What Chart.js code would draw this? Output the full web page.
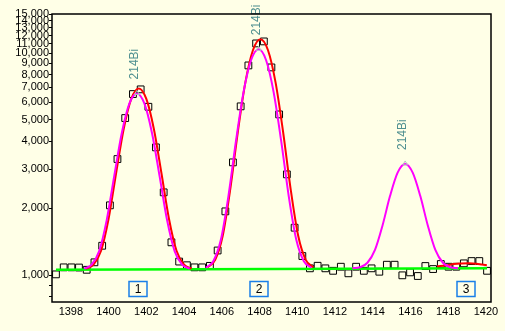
<!DOCTYPE html>
<html>
<head>
<meta charset="utf-8">
<script src="https://cdn.jsdelivr.net/npm/chart.js@4.4.1/dist/chart.umd.min.js"></script>
<style>
  html, body { margin: 0; padding: 0; background: #ffffe7; }
</style>
</head>
<body>
<canvas id="spectrum" width="505" height="331"></canvas>
<script>
// channel energies (keV) and measured counts
const channelE = [
  1397.21, 1397.62, 1398.03, 1398.43, 1398.84, 1399.25, 1399.66, 1400.07, 1400.47, 1400.88,
  1401.29, 1401.70, 1402.11, 1402.51, 1402.92, 1403.33, 1403.74, 1404.15, 1404.55, 1404.96,
  1405.37, 1405.78, 1406.19, 1406.59, 1407.00, 1407.41, 1407.82, 1408.23, 1408.63, 1409.04,
  1409.45, 1409.86, 1410.27, 1410.67, 1411.08, 1411.49, 1411.90, 1412.31, 1412.71, 1413.12,
  1413.53, 1413.94, 1414.35, 1414.75, 1415.16, 1415.57, 1415.98, 1416.39, 1416.79, 1417.20,
  1417.61, 1418.02, 1418.43, 1418.83, 1419.24, 1419.65, 1420.06
];
const channelCounts = [
  1007, 1083, 1083, 1081, 1056, 1141, 1355, 2061, 3331, 5096,
  6537, 6864, 5729, 3760, 2358, 1404, 1150, 1107, 1083, 1083,
  1100, 1290, 1936, 3218, 5754, 8798, 11054, 11287, 8618, 5293,
  2842, 1634, 1218, 1072, 1101, 1072, 1045, 1090, 1018, 1090,
  1045, 1072, 1035, 1113, 1113, 997, 1028, 990, 1098, 1064,
  1121, 1090, 1090, 1129, 1156, 1156, 1045
];

// continuum under the peaks
const baselineE = [1397.21, 1420.06];
const baselineCounts = [1057, 1073];

// fitted peak shapes (red)
const fit1E = [1398.8, 1399.2, 1399.6, 1400.0, 1400.4, 1400.8, 1401.2, 1401.6, 1402.0, 1402.4, 1402.8, 1403.2, 1403.6, 1404.0, 1404.4];
const fit1Counts = [1068, 1113, 1286, 1793, 2882, 4550, 6213, 6928, 6213, 4550, 2882, 1793, 1286, 1113, 1068];
const fit2E = [1405.25, 1405.65, 1406.05, 1406.45, 1406.85, 1407.25, 1407.65, 1408.05, 1408.45, 1408.85, 1409.25, 1409.65, 1410.05, 1410.45, 1410.85];
const fit2Counts = [1083, 1171, 1502, 2439, 4410, 7377, 10302, 11552, 10302, 7377, 4410, 2439, 1502, 1171, 1083];
const fit3E = [1417.41, 1417.9, 1418.3, 1418.7, 1419.1, 1419.5, 1419.8, 1420.05];
const fit3Counts = [1095, 1105, 1120, 1127, 1130, 1125, 1115, 1108];

// 214Bi library lines (magenta)
const lib1E = [1398.7, 1399.1, 1399.5, 1399.9, 1400.3, 1400.7, 1401.1, 1401.5, 1401.9, 1402.3, 1402.7, 1403.1, 1403.5, 1403.9, 1404.3];
const lib1Counts = [1068, 1113, 1282, 1768, 2799, 4363, 5916, 6578, 5916, 4363, 2799, 1768, 1282, 1113, 1068];
const lib2E = [1405.15, 1405.55, 1405.95, 1406.35, 1406.75, 1407.15, 1407.55, 1407.95, 1408.35, 1408.75, 1409.15, 1409.55, 1409.95, 1410.35, 1410.75];
const lib2Counts = [1079, 1154, 1441, 2263, 4008, 6655, 9281, 10402, 9281, 6655, 4008, 2263, 1441, 1154, 1079];
const lib3E = [1412.92, 1413.32, 1413.72, 1414.12, 1414.52, 1414.92, 1415.32, 1415.72, 1416.12, 1416.52, 1416.92, 1417.32, 1417.72, 1418.12, 1418.52];
const lib3Counts = [1072, 1084, 1136, 1298, 1672, 2274, 2894, 3165, 2894, 2274, 1672, 1298, 1136, 1084, 1072];

// peak identification labels
const peakNames = ["214Bi", "214Bi", "214Bi"];
const peakE = [1401.5, 1407.95, 1415.72];
const peakTop = [6578, 10402, 3165];

// fit region markers
const regionNames = ["1", "2", "3"];
const regionCenterE = [1401.56, 1407.97, 1418.96];

// axis ticks
const xTicks = [1398, 1400, 1402, 1404, 1406, 1408, 1410, 1412, 1414, 1416, 1418, 1420];
const yTicks = [800, 900, 1000, 2000, 3000, 4000, 5000, 6000, 7000, 8000, 9000, 10000, 11000, 12000, 13000, 14000, 15000];

const FONT = "'Liberation Sans', Arial, sans-serif";
const BG = "#ffffe7";

const pts = (xs, ys) => xs.map((x, i) => ({ x, y: ys[i] }));

function curve(xs, ys, color, order) {
  return {
    data: pts(xs, ys),
    showLine: true,
    borderColor: color,
    borderWidth: 2,
    pointRadius: 0,
    cubicInterpolationMode: "monotone",
    order,
  };
}

const decorations = {
  id: "decorations",
  beforeDraw(chart) {
    const { ctx } = chart;
    ctx.save();
    ctx.fillStyle = BG;
    ctx.fillRect(0, 0, chart.width, chart.height);
    ctx.restore();
  },
  afterDatasetsDraw(chart) {
    const { ctx, chartArea: a } = chart;
    const xs = chart.scales.x;
    const ys = chart.scales.y;
    ctx.save();

    // peak labels with small markers
    ctx.font = "12px " + FONT;
    peakE.forEach((e, i) => {
      const px = xs.getPixelForValue(e);
      const py = ys.getPixelForValue(peakTop[i]);
      ctx.strokeStyle = "#b4c8c0";
      ctx.lineWidth = 1;
      ctx.beginPath();
      ctx.moveTo(px, py - 3);
      ctx.lineTo(px + 2.5, py + 1);
      ctx.lineTo(px - 2.5, py + 1);
      ctx.closePath();
      ctx.stroke();

      ctx.save();
      ctx.translate(px, py - 14);
      ctx.rotate(-Math.PI / 2);
      ctx.fillStyle = "#4f9090";
      ctx.textAlign = "left";
      ctx.textBaseline = "middle";
      ctx.fillText(peakNames[i], 0, -2);
      ctx.restore();
    });

    // region boxes
    ctx.font = "12px " + FONT;
    ctx.textAlign = "center";
    ctx.textBaseline = "middle";
    regionCenterE.forEach((e, i) => {
      const cx = Math.round(xs.getPixelForValue(e));
      const cy = a.bottom - 13;
      ctx.fillStyle = BG;
      ctx.fillRect(cx - 9, cy - 7.5, 18, 15);
      ctx.strokeStyle = "#1a7fe8";
      ctx.lineWidth = 1.5;
      ctx.strokeRect(cx - 9, cy - 7.5, 18, 15);
      ctx.fillStyle = "#000";
      ctx.fillText(regionNames[i], cx, cy + 1);
    });

    // plot frame
    ctx.strokeStyle = "#000";
    ctx.lineWidth = 1.5;
    ctx.strokeRect(a.left, a.top, a.right - a.left, a.bottom - a.top);
    ctx.restore();
  },
};

new Chart(document.getElementById("spectrum"), {
  type: "scatter",
  data: {
    datasets: [
      curve(lib1E, lib1Counts, "#ff00ff", 1),
      curve(lib2E, lib2Counts, "#ff00ff", 1),
      curve(lib3E, lib3Counts, "#ff00ff", 1),
      curve(fit1E, fit1Counts, "#ff0000", 2),
      curve(fit2E, fit2Counts, "#ff0000", 2),
      curve(fit3E, fit3Counts, "#ff0000", 2),
      {
        data: pts(baselineE, baselineCounts),
        showLine: true,
        borderColor: "#00ff00",
        borderWidth: 2.5,
        pointRadius: 0,
        order: 3,
      },
      {
        data: pts(channelE, channelCounts),
        pointStyle: "rect",
        pointRadius: 4.8,
        borderColor: "#000",
        borderWidth: 1,
        backgroundColor: "rgba(0,0,0,0)",
        order: 5,
      },
    ],
  },
  options: {
    responsive: false,
    animation: false,
    layout: { padding: { top: 14, right: 14, left: 0, bottom: 0 } },
    plugins: {
      legend: { display: false },
      tooltip: { enabled: false },
    },
    scales: {
      x: {
        type: "linear",
        min: 1397,
        max: 1420.27,
        afterBuildTicks: (s) => { s.ticks = xTicks.map((v) => ({ value: v })); },
        afterFit: (s) => { s.height = 29; s.paddingLeft = 0; s.paddingRight = 0; },
        grid: { display: false },
        border: { display: false },
        ticks: {
          autoSkip: false,
          maxRotation: 0,
          padding: -5,
          color: "#000",
          font: { family: FONT, size: 11 },
          callback: (v) => String(v),
        },
      },
      y: {
        type: "logarithmic",
        min: 756,
        max: 15000,
        afterBuildTicks: (s) => { s.ticks = yTicks.map((v) => ({ value: v })); },
        afterFit: (s) => { s.width = 52; s.paddingTop = 0; s.paddingBottom = 0; },
        grid: {
          drawOnChartArea: false,
          drawTicks: true,
          tickLength: 3,
          tickColor: "#000",
          color: "#000",
        },
        border: { display: false },
        ticks: {
          autoSkip: false,
          padding: 0,
          color: "#000",
          font: { family: FONT, size: 11 },
          callback: (v) => (v >= 1000 ? Number(v).toLocaleString("en-US") : ""),
        },
      },
    },
  },
  plugins: [decorations],
});
</script>
</body>
</html>
